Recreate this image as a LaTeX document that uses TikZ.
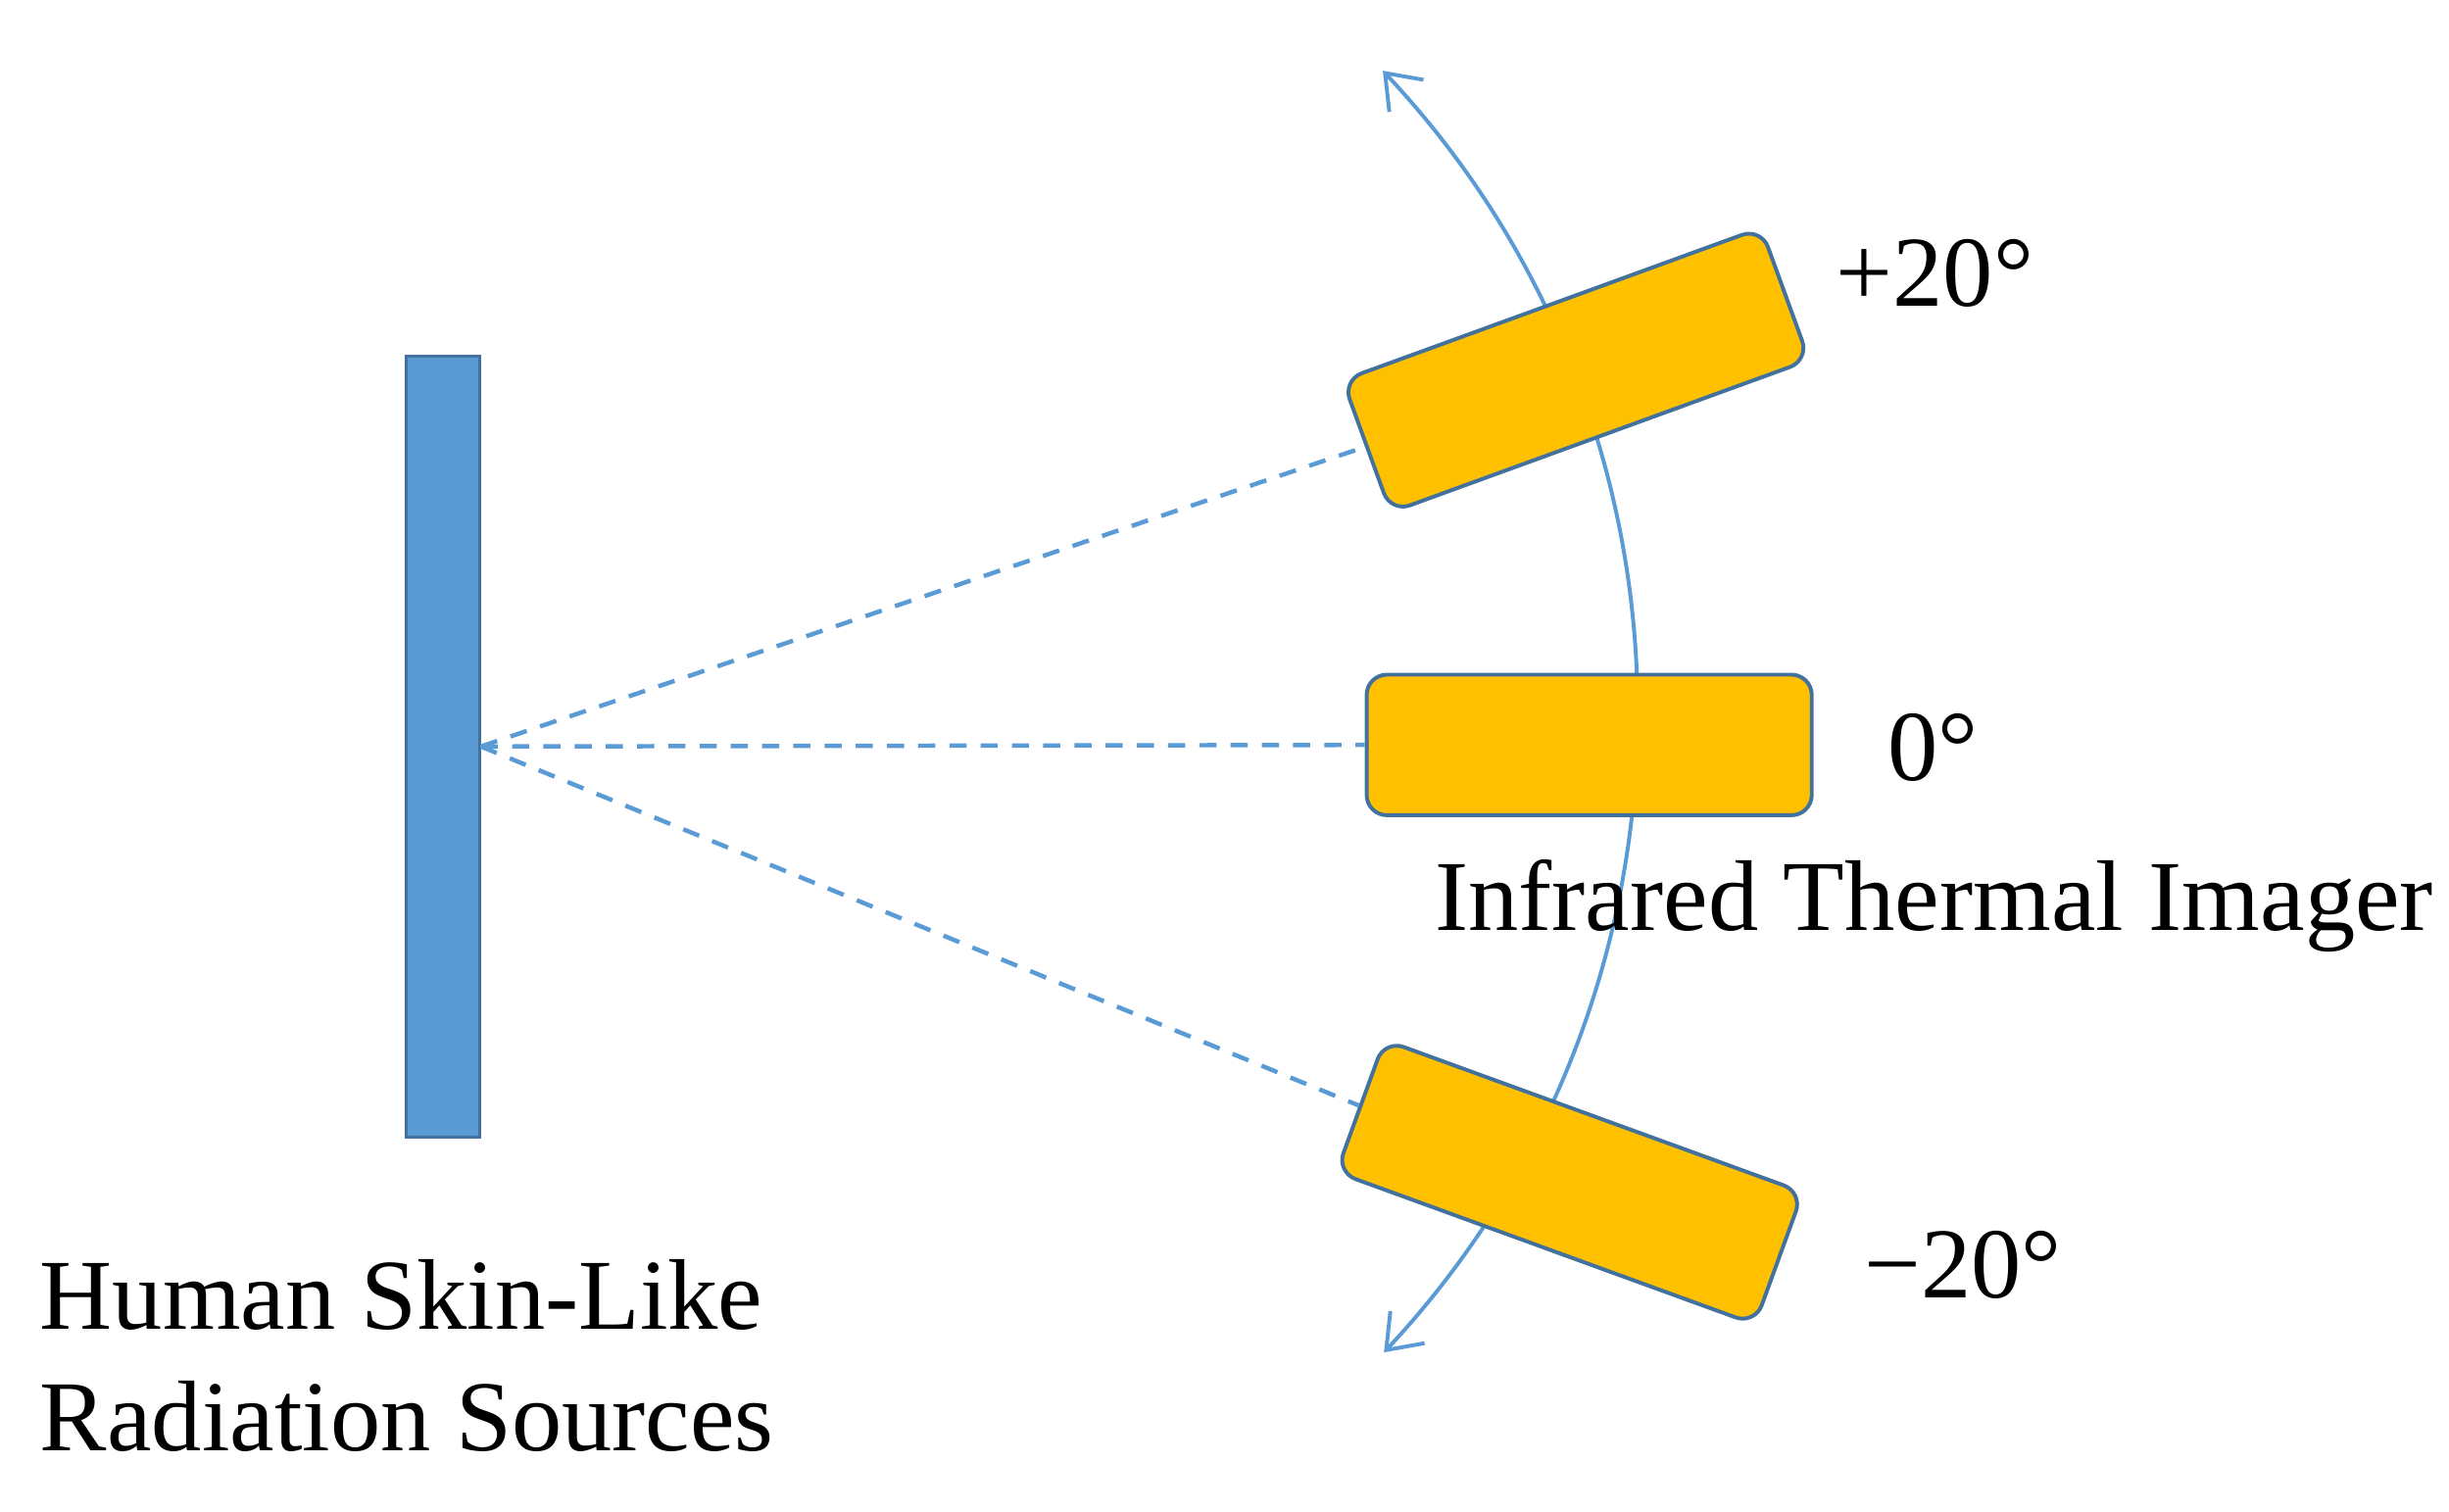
\documentclass[tikz,border=0pt]{standalone}
\usepackage{fontspec}
\setmainfont{Liberation Serif}
\usetikzlibrary{arrows.meta}
\definecolor{barblue}{HTML}{5B9BD5}
\definecolor{edgeblue}{HTML}{41719C}
\definecolor{gold}{HTML}{FFC000}
\begin{document}
\begin{tikzpicture}[x=0.1mm,y=-0.1mm,
  lbl/.style={inner sep=0pt, anchor=base west, font=\fontsize{18.3}{22.2}\selectfont},
  imager/.style={draw=edgeblue, line width=0.7pt, fill=gold, rounded corners=1.3mm,
    minimum width=28.5mm, minimum height=9mm, inner sep=0pt},
  source/.style={draw=edgeblue, line width=0.5pt, fill=barblue,
    minimum width=4.7mm, minimum height=50mm, inner sep=0pt},
  ray/.style={draw=barblue, dash pattern=on 1.1mm off 0.9mm, line width=0.8pt},
  swing/.style={draw=barblue, line width=0.7pt,
    {Straight Barb[length=2mm,width=3mm]}-{Straight Barb[length=2mm,width=3mm]}}]
\useasboundingbox (0,0) rectangle (1568,967.6);
% swing arc (behind the imagers)
\coordinate (pivot) at (448,456);
\draw[swing] (pivot) ++(-43.2:600) arc[start angle=-43.2, end angle=43.1, radius=600];
% radiation source
\node[source] (src) at (283.5,478) {};
% imagers
\node[imager] (mid) at (1017.5,477) {};
\node[imager, rotate=20] (up) at (1009,237) {};
\node[imager, rotate=-20] (down) at (1005,757) {};
% rays
\draw[ray] (src.east) -- (up.west);
\draw[ray] (src.east) -- (mid.west);
\draw[ray] (src.east) -- (down.west);
% labels
\node[lbl] (plus) at (1175,196) {+20°};
\node[lbl] (zero) at (1208,500) {0°};
\node[lbl] (minus) at (1193,831) {−20°};
\node[lbl] (cam) at (918,596) {Infrared Thermal Imager};
\node[lbl] (skinA) at (25,851) {Human Skin-Like};
\node[lbl] (skinB) at (25,929) {Radiation Sources};
\end{tikzpicture}
\end{document}
